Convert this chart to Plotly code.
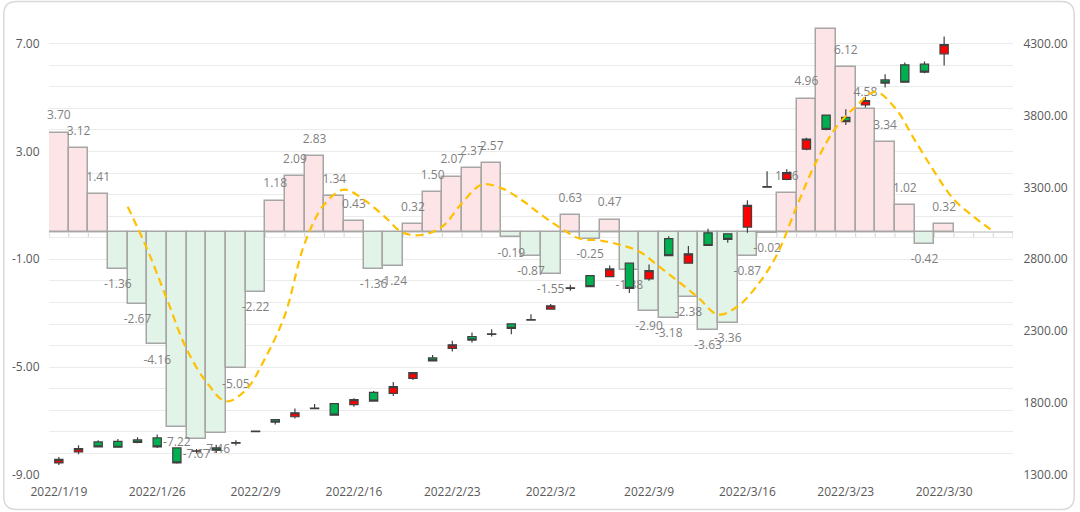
import plotly.graph_objects as go

# ---------------- data ----------------
dates = [
    "2022/1/19", "2022/1/20", "2022/1/21", "2022/1/24", "2022/1/25", "2022/1/26",
    "2022/1/27", "2022/1/28", "2022/2/7", "2022/2/8", "2022/2/9", "2022/2/10",
    "2022/2/11", "2022/2/14", "2022/2/15", "2022/2/16", "2022/2/17", "2022/2/18",
    "2022/2/21", "2022/2/22", "2022/2/23", "2022/2/24", "2022/2/25", "2022/2/28",
    "2022/3/1", "2022/3/2", "2022/3/3", "2022/3/4", "2022/3/7", "2022/3/8",
    "2022/3/9", "2022/3/10", "2022/3/11", "2022/3/14", "2022/3/15", "2022/3/16",
    "2022/3/17", "2022/3/18", "2022/3/21", "2022/3/22", "2022/3/23", "2022/3/24",
    "2022/3/25", "2022/3/28", "2022/3/29", "2022/3/30", "2022/3/31", "2022/4/1",
    "2022/4/6",
]

bar_values = [
    3.70, 3.12, 1.41, -1.36, -2.67, -4.16, -7.22, -7.67, -7.46, -5.05, -2.22,
    1.18, 2.09, 2.83, 1.34, 0.43, -1.36, -1.24, 0.32, 1.50, 2.07, 2.37, 2.57,
    -0.19, -0.87, -1.55, 0.63, -0.25, 0.47, -1.38, -2.90, -3.18, -2.38, -3.63,
    -3.36, -0.87, -0.02, 1.46, 4.96, 7.54, 6.12, 4.58, 3.34, 1.02, -0.42, 0.32,
]

opens = [1384, 1460, 1530, 1534, 1544, 1558, 1488, 1465, 1488, 1521, 1602, 1686,
         1705, 1762, 1796, 1789, 1875, 1868, 1972, 2114, 2180, 2263, 2277, 2351,
         2377, 2454, 2598, 2686, 2680, 2773, 2663, 2943, 2773, 2984, 2977, 3024,
         3301, 3356, 3566, 3803, 3787, 3873, 4047, 4152, 4157, 4229]
highs = [1426, 1507, 1541, 1551, 1562, 1581, 1493, 1481, 1511, 1542, 1607, 1688,
         1763, 1793, 1798, 1833, 1884, 1946, 2014, 2135, 2233, 2291, 2314, 2353,
         2417, 2489, 2623, 2689, 2756, 2776, 2763, 2961, 2892, 3012, 2979, 3210,
         3412, 3426, 3645, 3805, 3843, 3931, 4087, 4169, 4176, 4350]
lows = [1370, 1444, 1492, 1490, 1521, 1488, 1379, 1449, 1453, 1505, 1600, 1651,
        1693, 1762, 1714, 1775, 1812, 1849, 1960, 2093, 2159, 2221, 2263, 2279,
        2377, 2452, 2581, 2607, 2675, 2566, 2651, 2826, 2773, 2896, 2915, 2984,
        3301, 3350, 3559, 3698, 3733, 3855, 3994, 4031, 4094, 4148]
closes = [1409, 1484, 1495, 1493, 1526, 1495, 1384, 1468, 1472, 1525, 1605, 1668,
          1733, 1766, 1716, 1824, 1814, 1914, 2012, 2093, 2205, 2238, 2281, 2319,
          2381, 2477, 2602, 2610, 2733, 2598, 2721, 2826, 2838, 2896, 2938, 3175,
          3305, 3403, 3636, 3703, 3757, 3904, 4025, 4031, 4101, 4292]

# smoothed trend line, points placed on category boundaries starting at boundary 4
line_start = 4
line_values = [
    0.95, -0.64, -2.49, -4.34, -5.55, -6.27, -5.85, -4.65, -3.05, -0.40,
    1.04, 1.58, 1.21, 0.62, -0.02, -0.09, 0.22, 1.09, 1.77, 1.64,
    1.21, 0.66, 0.16, -0.24, -0.30, -0.46, -0.71, -1.26, -1.83, -2.42,
    -3.05, -2.75, -1.97, -0.83, 0.95, 2.62, 3.88, 4.66, 5.21, 4.62,
    3.43, 2.25, 1.21, 0.58, 0.03,
]

left_ticks_major = [-9, -5, -1, 3, 7]
right_ticks = [1300, 1800, 2300, 2800, 3300, 3800, 4300]

# ---------------- style ----------------
FONT = "Open Sans"
POS_FILL = "#FDE4E6"
NEG_FILL = "#E2F3E8"
BAR_EDGE = "#A6A6A6"
LINE_COLOR = "#FFC000"
RED = "#FF0000"
GREEN = "#00B050"
CANDLE_EDGE = "#404040"
GRID = "#EBEBEB"

W, H = 1080, 512
ML, MR, MT, MB = 47, 64, 22, 37
y_min, y_max = -9.0, 7.8
grid_step = 0.8
r_min = 1300
r_max = r_min + (y_max - y_min) * (3000 / 16.0)
label_offset = 0.6

n_cat = len(dates)
bar_x = dates[:len(bar_values)]
bar_colors = [POS_FILL if v >= 0 else NEG_FILL for v in bar_values]

fig = go.Figure()

fig.add_trace(go.Bar(
    x=bar_x, y=bar_values, xaxis="x", yaxis="y",
    marker=dict(color=bar_colors, line=dict(color=BAR_EDGE, width=1.5)),
    hoverinfo="skip", showlegend=False,
))

fig.add_trace(go.Scatter(
    x=bar_x,
    y=[v + label_offset if v >= 0 else v - label_offset for v in bar_values],
    mode="text", text=[f"{v:.2f}" for v in bar_values],
    textposition="middle center", cliponaxis=False,
    textfont=dict(family=FONT, size=12, color="#7F7F7F"),
    xaxis="x", yaxis="y", hoverinfo="skip", showlegend=False,
))

fig.add_trace(go.Scatter(
    x=list(range(line_start, line_start + len(line_values))),
    y=line_values, mode="lines", xaxis="x2", yaxis="y",
    line=dict(color=LINE_COLOR, width=2.2, dash="8px,5px", shape="spline", smoothing=1.0),
    hoverinfo="skip", showlegend=False,
))

fig.add_trace(go.Candlestick(
    x=dates[:len(opens)], open=opens, high=highs, low=lows, close=closes,
    xaxis="x", yaxis="y2",
    increasing=dict(line=dict(color=CANDLE_EDGE, width=1.2), fillcolor=RED),
    decreasing=dict(line=dict(color=CANDLE_EDGE, width=1.2), fillcolor=GREEN),
    hoverinfo="skip", showlegend=False,
))

# grid ticks for left axis
grid_vals = [round(y_min + grid_step * k, 4) for k in range(int(round((y_max - y_min) / grid_step)) + 1)]
grid_text = [f"{v:.2f}" if any(abs(v - t) < 1e-6 for t in left_ticks_major) else "" for v in grid_vals]

# small category tick marks on the zero line
shapes = []
for k in range(n_cat + 1):
    shapes.append(dict(type="line", xref="x2", yref="y", x0=k, x1=k, y0=0, y1=-0.19,
                       line=dict(color="#D9D9D9", width=1.2), layer="below"))

# rounded chart border (pixel -> paper conversion)
pw, ph = W - ML - MR, H - MT - MB
def px(x):
    return (x - ML) / pw
def py(y):
    return (H - MB - y) / ph
bx0, bx1, by0, by1, rad = 1.5, 1077.5, 1.5, 509.5, 13
path = (
    f"M {px(bx0 + rad)},{py(by0)} L {px(bx1 - rad)},{py(by0)} "
    f"Q {px(bx1)},{py(by0)} {px(bx1)},{py(by0 + rad)} "
    f"L {px(bx1)},{py(by1 - rad)} Q {px(bx1)},{py(by1)} {px(bx1 - rad)},{py(by1)} "
    f"L {px(bx0 + rad)},{py(by1)} Q {px(bx0)},{py(by1)} {px(bx0)},{py(by1 - rad)} "
    f"L {px(bx0)},{py(by0 + rad)} Q {px(bx0)},{py(by0)} {px(bx0 + rad)},{py(by0)} Z"
)
shapes.append(dict(type="path", xref="paper", yref="paper", path=path,
                   line=dict(color="#D9D9D9", width=1.5), layer="above"))

fig.update_layout(
    width=W, height=H,
    margin=dict(l=ML, r=MR, t=MT, b=MB, pad=0),
    paper_bgcolor="white", plot_bgcolor="white",
    bargap=0, boxgap=0.4, boxgroupgap=0.3,
    showlegend=False,
    font=dict(family=FONT, size=12, color="#595959"),
    xaxis=dict(
        type="category", categoryorder="array", categoryarray=dates,
        range=[-0.5, n_cat - 0.5],
        tickvals=dates[0::5], ticktext=dates[0::5],
        showgrid=False, zeroline=False, showline=False,
        ticks="outside", ticklen=6, tickcolor="rgba(0,0,0,0)",
        tickfont=dict(family=FONT, size=12, color="#595959"),
        rangeslider=dict(visible=False), fixedrange=True,
    ),
    xaxis2=dict(overlaying="x", range=[0, n_cat], visible=False, anchor="y"),
    yaxis=dict(
        range=[y_min, y_max], tickvals=grid_vals, ticktext=grid_text,
        showgrid=True, gridcolor=GRID, gridwidth=1.3,
        zeroline=True, zerolinecolor="#D9D9D9", zerolinewidth=2,
        showline=False, ticks="outside", ticklen=6, tickcolor="rgba(0,0,0,0)",
        tickfont=dict(family=FONT, size=12, color="#595959"),
    ),
    yaxis2=dict(
        overlaying="y", side="right", range=[r_min, r_max],
        tickvals=right_ticks, ticktext=[f"{v:.2f}" for v in right_ticks],
        showgrid=False, zeroline=False, showline=False,
        ticks="outside", ticklen=7, tickcolor="rgba(0,0,0,0)",
        tickfont=dict(family=FONT, size=12, color="#595959"),
    ),
    shapes=shapes,
)

fig.write_html("out.html")
